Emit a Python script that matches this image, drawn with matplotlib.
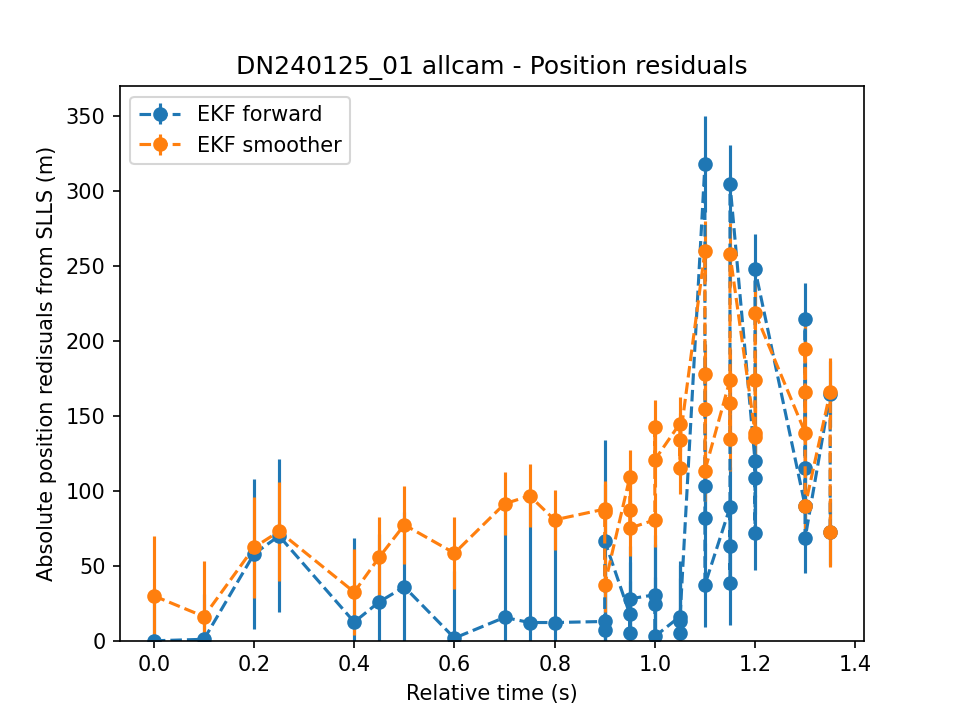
import matplotlib
matplotlib.use("Agg")
import matplotlib.pyplot as plt

# relative time of each observation (several cameras share a time step)
time = [0.0, 0.1, 0.2, 0.25, 0.4, 0.45, 0.5, 0.6, 0.7, 0.75, 0.8,
        0.9, 0.9, 0.9,
        0.95, 0.95, 0.95,
        1.0, 1.0, 1.0,
        1.05, 1.05, 1.05,
        1.1, 1.1, 1.1, 1.1,
        1.15, 1.15, 1.15, 1.15,
        1.2, 1.2, 1.2, 1.2,
        1.3, 1.3, 1.3, 1.3,
        1.35, 1.35]

# EKF forward residuals and 1-sigma errors (m)
fwd = [0, 1, 58, 70, 12.5, 26, 36, 1.8, 15.6, 12.2, 12.2,
       12.9, 6.9, 66.7,
       17.8, 5.1, 28,
       30.7, 24.7, 2.9,
       16.2, 5.1, 13.5,
       318, 103, 82, 37.4,
       89, 63, 38.5, 305,
       120, 108.5, 72, 248,
       90, 215, 115, 68.5,
       165, 72.5]
fwd_err = [35, 30, 50, 51, 56, 45, 50, 45, 76, 80, 65,
           40, 40, 67,
           35, 35, 35,
           40, 40, 40,
           37, 37, 37,
           32, 28, 28, 28,
           27, 27, 28, 26,
           24, 24, 25, 23.5,
           23, 23.5, 23, 23,
           22, 22]

# EKF smoother residuals and 1-sigma errors (m)
smooth = [30, 16.2, 62.3, 73, 32.5, 55.8, 77.4, 58.5, 91.4, 96.8, 80.7,
          87.9, 86, 37.4,
          109.2, 87, 75.2,
          80.7, 142.6, 120.8,
          145, 115, 134,
          260, 178, 155, 113.6,
          174, 159, 134.6, 258,
          139, 136, 174, 219,
          139, 195, 166, 90,
          166, 72.5]
smooth_err = [40, 37, 34, 33, 28.5, 27, 26, 24, 21, 21, 20,
              18.5, 18.5, 18.5,
              18, 18, 18.5,
              18, 18, 18,
              18, 17, 18,
              20, 20, 20, 20,
              21, 21, 21, 21,
              21, 21, 21, 21,
              23, 23, 23, 23,
              23, 23]

fig = plt.figure(figsize=(6.4, 4.8), dpi=150)

plt.errorbar(time, fwd, yerr=fwd_err, fmt='o--', label='EKF forward')
plt.errorbar(time, smooth, yerr=smooth_err, fmt='o--', label='EKF smoother')

plt.ylim(0, 370)
plt.xlabel('Relative time (s)')
plt.ylabel('Absolute position redisuals from SLLS (m)')
plt.title('DN240125_01 allcam - Position residuals')
plt.legend(loc='upper left')

fig.savefig('out.png')
